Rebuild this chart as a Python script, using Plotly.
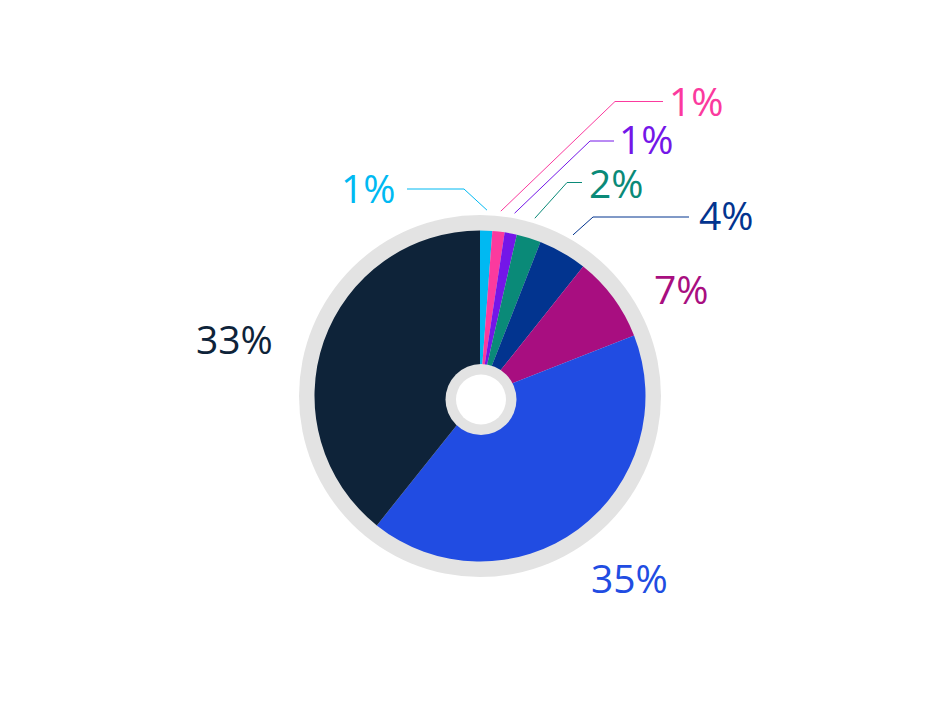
import math
import plotly.graph_objects as go

# data
categories = ["A", "B", "C", "D", "E", "F", "G", "H"]
values = [1, 1, 1, 2, 4, 7, 35, 33]
colors = ["#00b9f2", "#fb3a9e", "#7416e8", "#0a8a78", "#02348f", "#a80e80", "#214ce2", "#0e2339"]
pct_labels = [f"{v}%" for v in values]

W, H = 935, 709
PAGE_OFF = 8  # body margin of the html page
CX, CY = 480, 396
HX, HY = 481, 399.5  # centre of the inner ring, a bit off the pie centre
R_RING, R_PIE, R_HOLE_RING, R_HOLE = 181, 165.5, 35.5, 25
GRAY = "#e3e3e3"

# label layout (pixels): text pos, anchor, elbow of leader line, end of horizontal segment
label_pos = [
    dict(x=398, y=187, anchor="right", elbow=(464, 189), end=(407, 189)),
    dict(x=667, y=100, anchor="left", elbow=(615, 101.5), end=(663, 101.5)),
    dict(x=617, y=139, anchor="left", elbow=(590, 141), end=(614, 141)),
    dict(x=587, y=182, anchor="left", elbow=(567, 182.5), end=(582, 182.5)),
    dict(x=697, y=214, anchor="left", elbow=(593, 217), end=(689, 217)),
    dict(x=681, y=288, anchor="center"),
    dict(x=629, y=577, anchor="center"),
    dict(x=234, y=339, anchor="center"),
]


def px(x):
    return (x - PAGE_OFF) / W


def py(y):
    return 1 - (y - PAGE_OFF) / H


def disk(cx, cy, r, color):
    return go.Pie(
        values=[1],
        marker=dict(colors=[color], line=dict(width=0)),
        textinfo="none",
        hoverinfo="skip",
        sort=False,
        showlegend=False,
        domain=dict(x=[px(cx - r), px(cx + r)], y=[py(cy + r), py(cy - r)]),
    )


fig = go.Figure()
fig.add_trace(disk(CX, CY, R_RING, GRAY))
fig.add_trace(
    go.Pie(
        labels=categories,
        values=values,
        marker=dict(colors=colors, line=dict(width=0)),
        hole=30 / R_PIE,
        sort=False,
        direction="clockwise",
        rotation=0,
        textinfo="none",
        showlegend=False,
        domain=dict(x=[px(CX - R_PIE), px(CX + R_PIE)], y=[py(CY + R_PIE), py(CY - R_PIE)]),
    )
)
fig.add_trace(disk(HX, HY, R_HOLE_RING, GRAY))
fig.add_trace(disk(HX, HY, R_HOLE, "white"))

total = sum(values)
cum = 0
shapes, annotations = [], []
for v, c, t, lp in zip(values, colors, pct_labels, label_pos):
    mid = (cum + v / 2) / total * 2 * math.pi
    cum += v
    annotations.append(
        dict(
            x=px(lp["x"]), y=py(lp["y"]), xref="paper", yref="paper",
            text=t, showarrow=False, xanchor=lp["anchor"], yanchor="middle",
            font=dict(family="Open Sans", size=39, color=c),
        )
    )
    if "elbow" in lp:
        sx = CX + 186 * math.sin(mid)
        sy = CY - 186 * math.cos(mid)
        ex, ey = lp["elbow"]
        hx, hy = lp["end"]
        shapes.append(
            dict(
                type="path", xref="paper", yref="paper",
                path=f"M {px(sx)} {py(sy)} L {px(ex)} {py(ey)} L {px(hx)} {py(hy)}",
                line=dict(color=c, width=1),
            )
        )

fig.update_layout(
    width=W,
    height=H,
    margin=dict(l=0, r=0, t=0, b=0),
    paper_bgcolor="white",
    plot_bgcolor="white",
    shapes=shapes,
    annotations=annotations,
)

fig.write_html("out.html")
